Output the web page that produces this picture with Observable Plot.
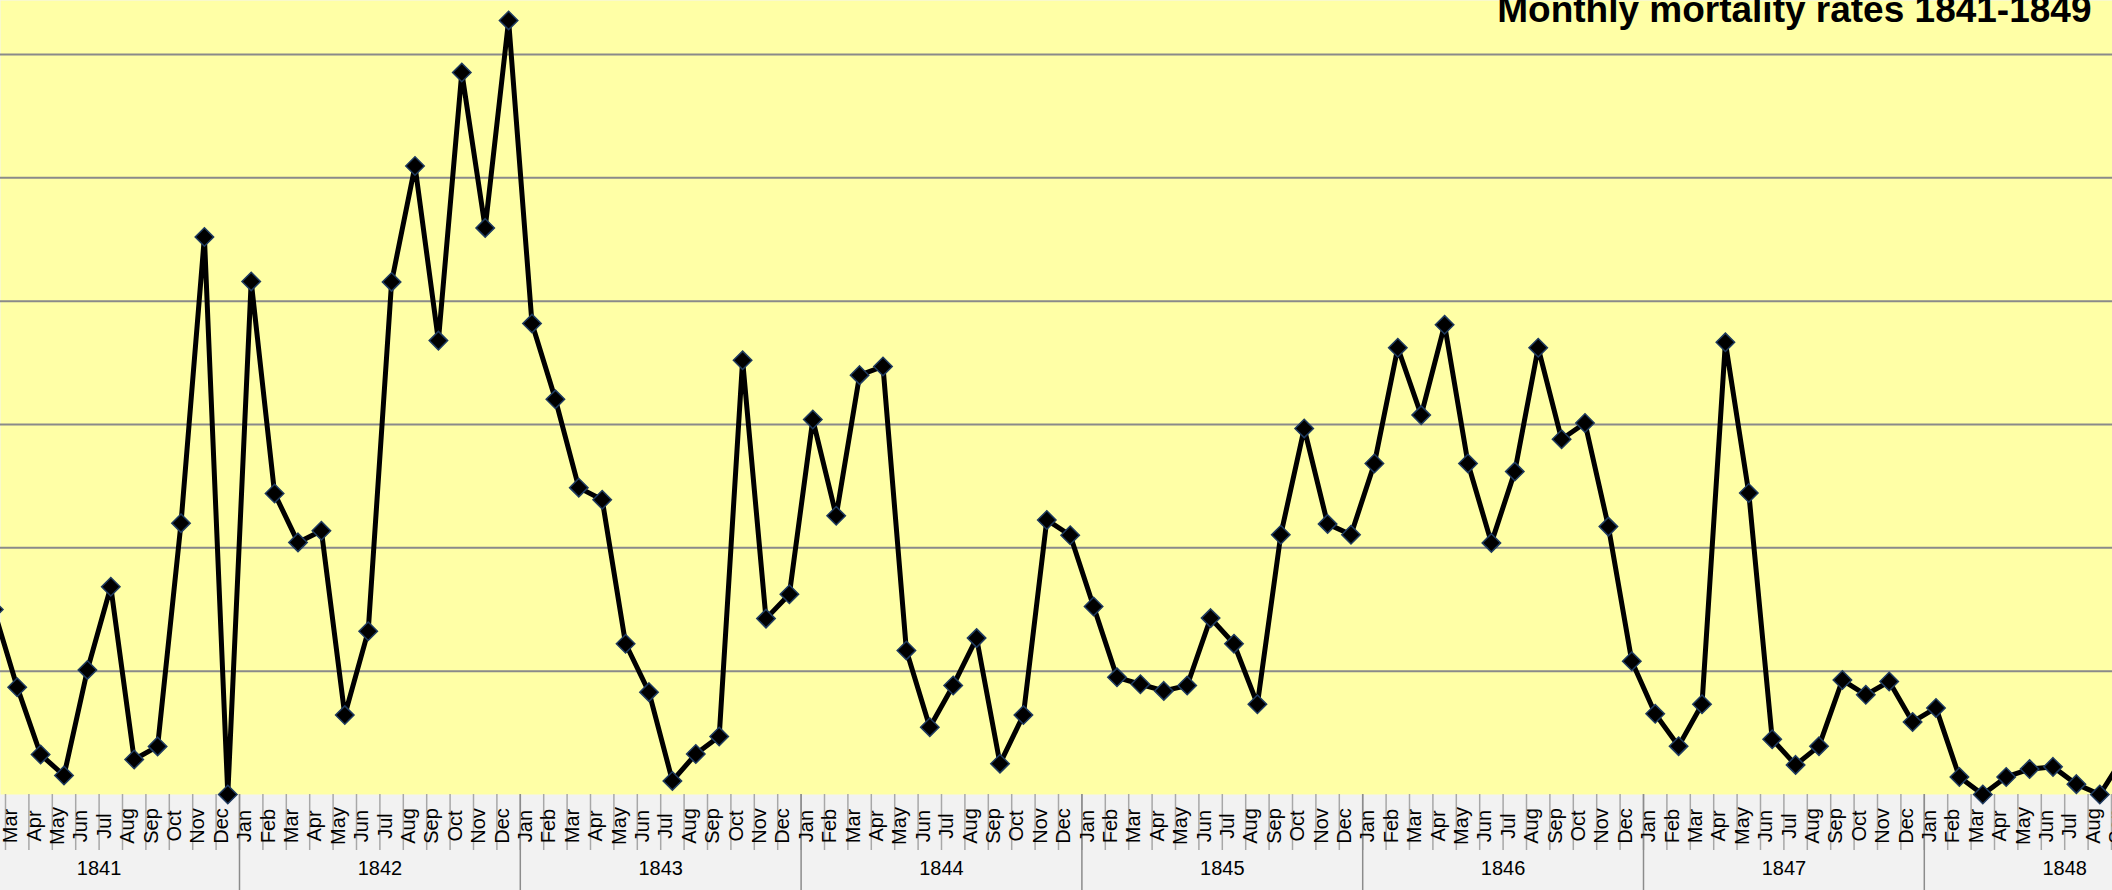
<!DOCTYPE html>
<html>
<head>
<meta charset="utf-8">
<script src="https://cdn.jsdelivr.net/npm/d3@7"></script>
<script src="https://cdn.jsdelivr.net/npm/@observablehq/plot@0.6"></script>
<style>
html, body { margin: 0; padding: 0; overflow: hidden; background: #f2f2f2; }
#chart svg { display: block; }
</style>
</head>
<body>
<div id="chart"></div>
<script>
const title = "Monthly mortality rates 1841-1849";
const monthNames = ["Jan","Feb","Mar","Apr","May","Jun","Jul","Aug","Sep","Oct","Nov","Dec"];
const years = [1841, 1842, 1843, 1844, 1845, 1846, 1847, 1848];

// monthly mortality rate (%)
const rate1841 = [14.6, 7.5, 4.35, 1.62, 0.77, 5.05, 8.42, 1.42, 1.95, 11.0, 22.6, 0];
const rate1842 = [20.8, 12.2, 10.22, 10.69, 3.22, 6.62, 20.78, 25.48, 18.4, 29.27, 22.97, 31.38];
const rate1843 = [19.09, 16.02, 12.44, 11.95, 6.11, 4.15, 0.55, 1.64, 2.35, 17.6, 7.13, 8.12];
const rate1844 = [15.2, 11.3, 17.0, 17.35, 5.84, 2.73, 4.42, 6.34, 1.25, 3.22, 11.13, 10.51];
const rate1845 = [7.62, 4.75, 4.47, 4.2, 4.42, 7.15, 6.11, 3.66, 10.53, 14.84, 10.97, 10.53];
const rate1846 = [13.42, 18.11, 15.38, 19.04, 13.42, 10.2, 13.09, 18.11, 14.4, 15.06, 10.86, 5.4];
const rate1847 = [3.27, 1.96, 3.66, 18.33, 12.22, 2.24, 1.2, 1.96, 4.64, 4.04, 4.58, 2.94];
const rate1848 = [3.51, 0.71, 0, 0.71, 1.03, 1.12, 0.42, 0, 1.5];

const gridTicks = [5, 10, 15, 20, 25, 30];

const rateByYear = [rate1841, rate1842, rate1843, rate1844, rate1845, rate1846, rate1847, rate1848];

// table: month index i (0 = Jan 1841)
const data = [];
rateByYear.forEach((arr, yi) => arr.forEach((v, m) => data.push({i: yi * 12 + m, year: years[yi], month: monthNames[m], rate: v})));

const monthCells = [];
years.forEach((y, yi) => monthNames.forEach((m, mi) => monthCells.push({i: yi * 12 + mi, label: m})));
const monthBounds = d3.range(0, years.length * 12 + 1).map(k => k - 0.5);
const yearBounds = d3.range(0, years.length + 1).map(k => k * 12 - 0.5);
const yearCenters = years.map((y, yi) => ({i: yi * 12 + 5.5, label: String(y)}));

const W = 2112, H = 890, MB = 96;
const innerH = H - MB;
const pxPerUnit = 24.668;
const pxPerMonth = 23.4;
const sep1842 = 239; // pixel of the Dec 1841 / Jan 1842 boundary
const xMin = 11.5 - sep1842 / pxPerMonth;
const xMax = xMin + W / pxPerMonth;

const chart = Plot.plot({
  width: W,
  height: H,
  marginTop: 0,
  marginRight: 0,
  marginBottom: MB,
  marginLeft: 0,
  style: {background: "#f2f2f2", fontFamily: "'Liberation Sans', Arial, sans-serif", overflow: "hidden"},
  x: {type: "linear", domain: [xMin, xMax], axis: null},
  y: {type: "linear", domain: [0, innerH / pxPerUnit], axis: null},
  marks: [
    Plot.frame({fill: "#ffffa6", stroke: "none"}),
    Plot.ruleY(gridTicks, {y: d => d, stroke: "#8a8a8a", strokeWidth: 2}),
    Plot.ruleX(monthBounds, {x: d => d, insetTop: innerH, insetBottom: -56, stroke: "#a8a8a8", strokeWidth: 1.5}),
    Plot.ruleX(yearBounds, {x: d => d, insetTop: innerH, insetBottom: -MB, stroke: "#8c8c8c", strokeWidth: 1.5}),
    Plot.text(monthCells, {x: "i", text: "label", frameAnchor: "bottom", dy: 31.5, rotate: -90, textAnchor: "middle", fontSize: 20, fill: "#000"}),
    Plot.text(yearCenters, {x: "i", text: "label", frameAnchor: "bottom", dy: 80.5, textAnchor: "middle", fontSize: 20, fill: "#000"}),
    Plot.line(data, {x: "i", y: "rate", stroke: "#000", strokeWidth: 5, strokeLinejoin: "round", strokeLinecap: "round"}),
    Plot.dot(data, {x: "i", y: "rate", symbol: "diamond2", r: 8.3, fill: "#000", stroke: "#1f3b60", strokeWidth: 1.5}),
    Plot.text([title], {text: d => d, frameAnchor: "top-right", dx: -21, dy: 10, textAnchor: "end", lineAnchor: "middle", fontSize: 37, fontWeight: "bold", fill: "#000"})
  ]
});
document.getElementById("chart").appendChild(chart);
</script>
</body>
</html>
